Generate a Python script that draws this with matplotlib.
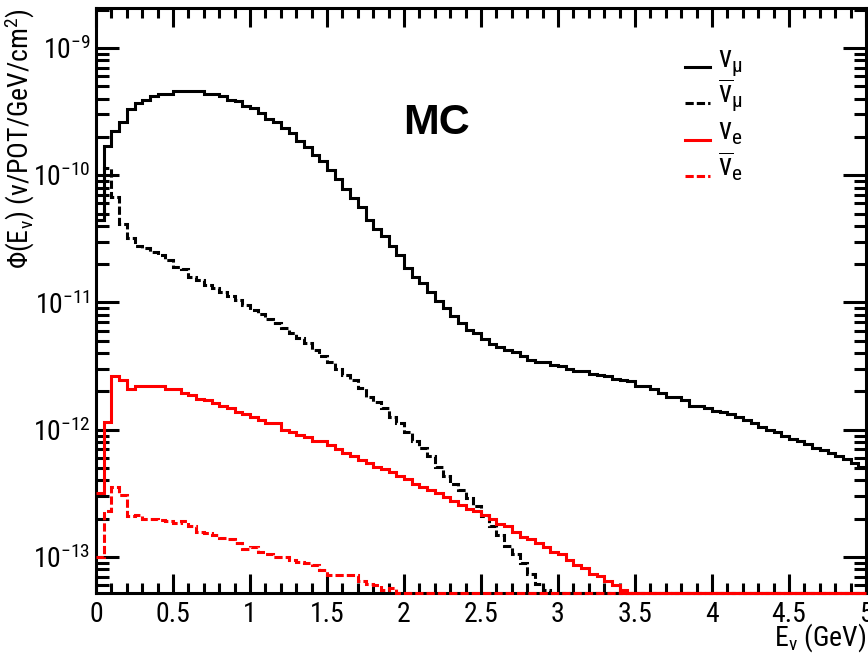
import numpy as np
import matplotlib
matplotlib.use("Agg")
import matplotlib.pyplot as plt
from matplotlib import font_manager as fm
from matplotlib.ticker import MultipleLocator, LogLocator, FuncFormatter, NullFormatter
from matplotlib.lines import Line2D

# Pick a narrow Helvetica-like face for the labels
available = {f.name for f in fm.fontManager.ttflist}
narrow_candidates = ['Liberation Sans Narrow', 'Arial Narrow', 'Roboto Condensed',
                     'Archivo Narrow', 'PT Sans Narrow', 'Sofia Sans Condensed',
                     'Liberation Sans']
label_font = next(n for n in narrow_candidates if n in available)

plt.rcParams['font.family'] = [label_font, 'DejaVu Sans']
plt.rcParams['mathtext.fontset'] = 'custom'
plt.rcParams['mathtext.rm'] = label_font
plt.rcParams['mathtext.it'] = label_font + ':italic'
plt.rcParams['mathtext.bf'] = label_font + ':bold'

# Energy binning (GeV)
e_min, e_max, n_bins = 0.0, 5.0, 100

# log10 of the flux per bin, nu/POT/GeV/cm^2 (bins below the plot floor are omitted)
numu_log10 = [-10.35, -9.77, -9.65, -9.58, -9.48, -9.43, -9.41, -9.38, -9.36, -9.36,
              -9.34, -9.34, -9.34, -9.34, -9.36, -9.36, -9.38, -9.41, -9.42, -9.46,
              -9.47, -9.51, -9.56, -9.58, -9.63, -9.67, -9.73, -9.78, -9.84, -9.89,
              -9.96, -10.03, -10.11, -10.18, -10.25, -10.35, -10.42, -10.48, -10.56, -10.63,
              -10.73, -10.80, -10.85, -10.92, -10.99, -11.04, -11.11, -11.16, -11.22, -11.24,
              -11.29, -11.33, -11.35, -11.37, -11.39, -11.42, -11.45, -11.47, -11.47, -11.49,
              -11.50, -11.52, -11.54, -11.54, -11.56, -11.57, -11.58, -11.60, -11.61, -11.62,
              -11.66, -11.66, -11.68, -11.71, -11.74, -11.74, -11.77, -11.81, -11.81, -11.83,
              -11.85, -11.86, -11.88, -11.90, -11.92, -11.95, -11.98, -12.00, -12.02, -12.05,
              -12.07, -12.09, -12.11, -12.14, -12.16, -12.18, -12.21, -12.23, -12.26, -12.29]

numubar_log10 = [-10.35, -9.94, -10.17, -10.38, -10.49, -10.56, -10.57, -10.60, -10.63, -10.67,
                 -10.72, -10.74, -10.80, -10.82, -10.86, -10.89, -10.92, -10.95, -10.98, -11.02,
                 -11.06, -11.09, -11.13, -11.16, -11.20, -11.24, -11.28, -11.32, -11.37, -11.42,
                 -11.47, -11.52, -11.57, -11.61, -11.67, -11.74, -11.78, -11.83, -11.90, -11.95,
                 -12.02, -12.09, -12.14, -12.21, -12.29, -12.36, -12.43, -12.47, -12.54, -12.60,
                 -12.68, -12.76, -12.83, -12.91, -12.98, -13.05, -13.13, -13.21, -13.26]

nue_log10 = [-12.50, -11.94, -11.58, -11.61, -11.68, -11.66, -11.66, -11.66, -11.66, -11.68,
             -11.68, -11.71, -11.73, -11.76, -11.77, -11.79, -11.81, -11.83, -11.86, -11.88,
             -11.90, -11.92, -11.95, -11.95, -12.00, -12.02, -12.04, -12.06, -12.09, -12.09,
             -12.12, -12.15, -12.18, -12.21, -12.24, -12.26, -12.29, -12.31, -12.33, -12.36,
             -12.39, -12.43, -12.45, -12.47, -12.50, -12.53, -12.56, -12.59, -12.62, -12.64,
             -12.67, -12.70, -12.74, -12.76, -12.80, -12.84, -12.86, -12.89, -12.92, -12.96,
             -12.98, -13.02, -13.06, -13.09, -13.13, -13.15, -13.19, -13.22, -13.26]

nuebar_log10 = [-13.00, -12.64, -12.45, -12.51, -12.68, -12.67, -12.70, -12.70, -12.71, -12.72,
                -12.73, -12.72, -12.76, -12.80, -12.81, -12.83, -12.85, -12.86, -12.89, -12.94,
                -12.92, -12.96, -12.98, -13.00, -13.00, -13.02, -13.04, -13.05, -13.06, -13.10,
                -13.14, -13.14, -13.14, -13.14, -13.19, -13.21, -13.22, -13.26, -13.24]

legend_labels = [r'$\mathrm{\nu_{\mu}}$', r'$\mathrm{\overline{\nu}_{\mu}}$',
                 r'$\mathrm{\nu_{e}}$', r'$\mathrm{\overline{\nu}_{e}}$']

y_lo, y_hi = 10 ** -13.283, 10 ** -8.686

edges = np.linspace(e_min, e_max, n_bins + 1)


def flux(log_vals):
    out = np.zeros(n_bins)
    out[:len(log_vals)] = 10.0 ** np.asarray(log_vals)
    # empty / underflowing bins are drawn on the frame floor
    return np.clip(out, y_lo, None)


fig = plt.figure(figsize=(8.68, 6.54), dpi=100)
ax = fig.add_axes([96 / 868, 1 - 593 / 654, 770 / 868, 585 / 654])

lw = 2.2
dash = (0, (2.7, 1.0))
series = [
    (numu_log10, 'black', '-'),
    (numubar_log10, 'black', dash),
    (nue_log10, '#ff0000', '-'),
    (nuebar_log10, '#ff0000', dash),
]
for vals, col, ls in series:
    ax.stairs(flux(vals), edges, baseline=None, color=col, linestyle=ls,
              linewidth=lw, zorder=3, clip_on=False)

ax.set_xlim(e_min, e_max)
ax.set_yscale('log')
ax.set_ylim(y_lo, y_hi)

for sp in ax.spines.values():
    sp.set_linewidth(lw)

ax.xaxis.set_major_locator(MultipleLocator(0.5))
ax.xaxis.set_minor_locator(MultipleLocator(0.1))
ax.xaxis.set_major_formatter(FuncFormatter(lambda v, p: f'{v:g}'))
ax.yaxis.set_major_locator(LogLocator(base=10, numticks=20))
ax.yaxis.set_minor_locator(LogLocator(base=10, subs=np.arange(2, 10), numticks=20))
ax.yaxis.set_minor_formatter(NullFormatter())

ax.tick_params(axis='both', which='both', direction='in', top=True, right=True,
               width=lw, labelsize=20, colors='black')
ax.tick_params(axis='x', which='major', length=13.7, pad=6)
ax.tick_params(axis='x', which='minor', length=7)
ax.tick_params(axis='y', which='major', length=16.6, pad=4)
ax.tick_params(axis='y', which='minor', length=9)

# Legend drawn by hand in axes coordinates
leg_y = [0.899, 0.837, 0.774, 0.713]
for (vals, col, ls), lab, yy in zip(series, legend_labels, leg_y):
    ax.add_line(Line2D([0.765, 0.797], [yy, yy], transform=ax.transAxes,
                       color=col, linestyle=ls, linewidth=lw, clip_on=False))
    ax.text(0.808, yy, lab, transform=ax.transAxes, fontsize=22,
            ha='left', va='baseline')

ax.text(0.4426, 0.803, 'MC', transform=ax.transAxes, fontsize=31,
        fontweight='bold', family=['Liberation Sans', 'DejaVu Sans'],
        ha='center', va='center')

fig.text(20 / 868, 1 - 8 / 654,
         r'$\mathrm{\Phi(E_{\nu})\ (\nu/POT/GeV/cm^{2})}$',
         rotation=90, fontsize=20, ha='center', va='top')
fig.text(866 / 868, 8 / 654, r'$\mathrm{E_{\nu}}$ (GeV)', fontsize=20,
         ha='right', va='baseline')

fig.savefig('out.png', dpi=100)
